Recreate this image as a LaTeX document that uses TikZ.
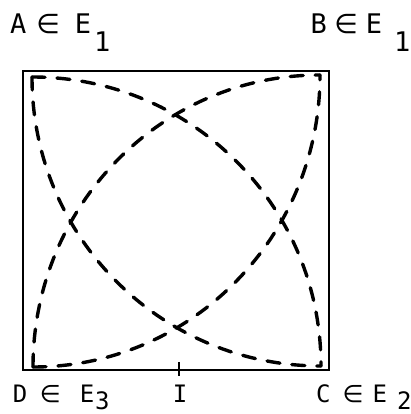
\documentclass[tikz,border=0pt]{standalone}
\usepackage{fontspec}
\newfontfamily\labfont{DejaVu Sans Mono}
\newfontfamily\elemfont{DejaVu Sans}
\begin{document}
\begin{tikzpicture}[x=1pt,y=1pt,
  frame/.style={line width=1.6pt},
  arcline/.style={line width=3.4pt, dash pattern=on 13pt off 12pt, line cap=round},
  toplab/.style={inner sep=0pt, anchor=base west, font=\labfont\fontsize{27}{27}\selectfont},
  botlab/.style={inner sep=0pt, anchor=base west, font=\labfont\fontsize{24}{24}\selectfont}]
\useasboundingbox (0,0) rectangle (411,414);
% frame
\draw[frame] (23,44) rectangle (329,343);
% corners of the arcs
\coordinate (A) at (32,337);
\coordinate (B) at (320,339);
\coordinate (C) at (321,48);
\coordinate (D) at (33,47);
% quarter circles
\draw[arcline] (A) to[out=-90,in=180] (C);
\draw[arcline] (A) to[out=0,in=90] (C);
\draw[arcline] (D) to[out=0,in=-90] (B);
\draw[arcline] (D) to[out=90,in=180] (B);
% tick at I
\coordinate (t1) at (179,52);
\coordinate (t2) at (179,38);
\draw[line width=2.2pt] (t1) -- (t2);
% labels
\node[toplab] (la) at (10,380) {A\hspace{10pt}{\elemfont ∈}\hspace{15pt}E\hspace{3pt}\raisebox{-18pt}{1}};
\node[toplab] (lb) at (310.5,380) {B\hspace{7.5pt}{\elemfont ∈}\hspace{8pt}E\hspace{12pt}\raisebox{-18pt}{1}};
\node[botlab] (ld) at (12.6,11) {D\hspace{12.6pt}{\elemfont ∈}\hspace{19pt}E\hspace{1pt}\raisebox{-6pt}{3}};
\node[botlab, anchor=base] (li) at (180,11) {I};
\node[botlab] (lc) at (316,11) {C\hspace{12pt}{\elemfont ∈}\hspace{9pt}E\hspace{10pt}\raisebox{-6pt}{2}};
\end{tikzpicture}
\end{document}
